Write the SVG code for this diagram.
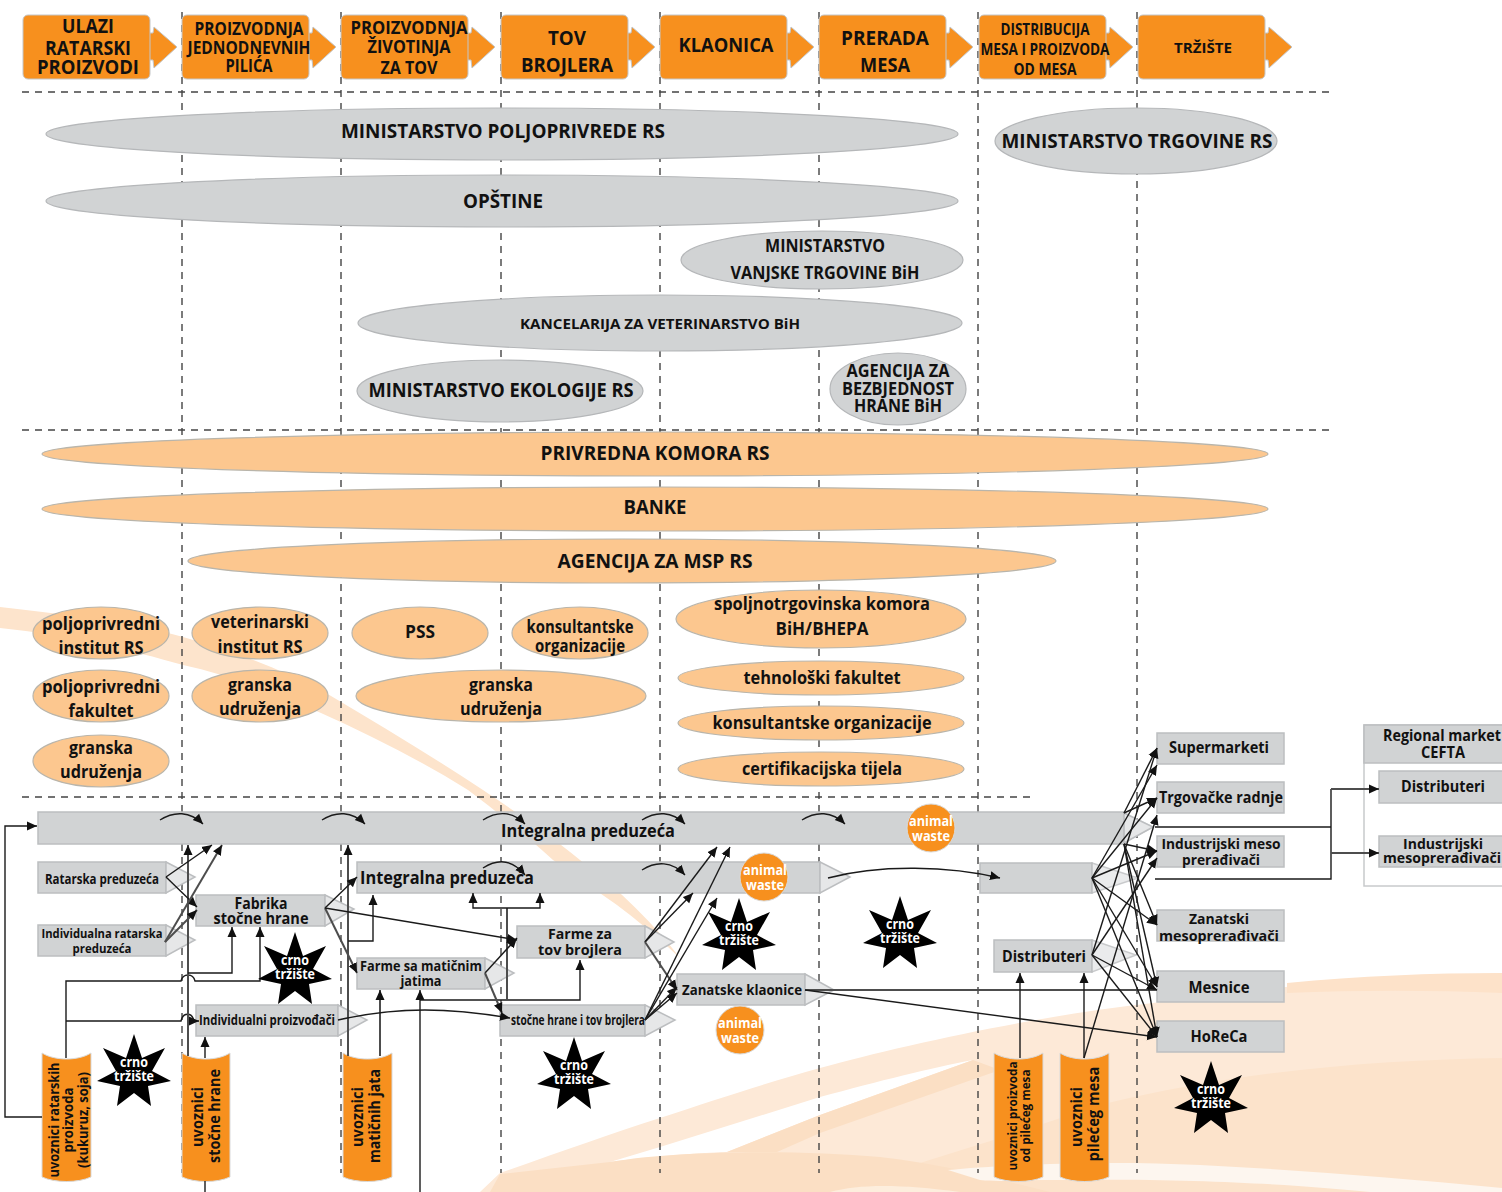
<svg xmlns="http://www.w3.org/2000/svg" width="1502" height="1192" viewBox="0 0 1502 1192">
<style>
text{font-family:"Open Sans","Noto Sans","Liberation Sans",sans-serif;font-weight:700;fill:#111;text-anchor:middle}
.w{fill:#fff}
.e{fill:#d1d3d4;stroke:#b5b7b9;stroke-width:1.2}
.p{fill:#fcc78f;stroke:#b9b5ab;stroke-width:1.2}
.b{fill:#d1d3d4;stroke:#bcbec0;stroke-width:1.5}
.tr{fill:#e6e7e8;stroke:#bcbec0;stroke-width:1.5}
.h{fill:#f7901e;stroke:#c4c6c8;stroke-width:1}
.c{fill:#f7901e;stroke:#d9dadb;stroke-width:1}
.d{fill:none;stroke:#444;stroke-width:1.4;stroke-dasharray:7 6}
.l{fill:none;stroke:#1a1a1a;stroke-width:1.4}
.g{fill:none;stroke:#4d4d4d;stroke-width:2}
.a{marker-end:url(#ah)}
</style>
<defs>
<marker id="ah" markerWidth="11" markerHeight="10" refX="10" refY="5" orient="auto" markerUnits="userSpaceOnUse"><path d="M0,0.5L10,5L0,9.5Z" fill="#111"/></marker>
<path id="star" d="M0,0L8,24L31,14L18,37L37,47L14,52L17,72L0,59L-17,72L-14,52L-37,47L-18,37L-31,14L-8,24Z" fill="#000"/>
<polygon id="harrow" points="125,18 130,18 131,12 154,32 131,53 130,45 125,45" fill="#f7901e" stroke="#c4c6c8"/>
</defs>
<g id="background">
<path d="M0,607C70,615 130,622 183,637C230,650 280,668 326,693C380,725 430,755 483,790C520,815 550,835 580,860C620,890 655,925 680,958C650,930 630,915 617,905C595,890 575,875 553,860C525,835 495,810 468,790C420,760 370,735 321,713C280,695 230,675 183,665C130,650 70,635 0,628Z" fill="#fde4cc"/>
<path d="M480,1192L500,1173C560,1152 610,1134 660,1118C720,1098 770,1082 820,1068C900,1046 1040,1015 1153,1003C1290,984 1400,976 1502,973V1192Z" fill="#fde9d7"/>
<path d="M610,1162L660,1147L820,1097C880,1081 930,1068 973,1060L820,1115L727,1152C680,1154 640,1158 610,1162Z" fill="#fff"/>
<path d="M973,1060L820,1115L727,1152H777L820,1133L1000,1070Z" fill="#fbdfc4"/>
<path d="M1000,1138L920,1163L1000,1192H1502V1058C1380,1060 1240,1070 1100,1105Z" fill="#fce3cb"/>
<path d="M1287,983C1360,976 1430,973 1502,973V993C1430,990 1360,990 1287,993Z" fill="#fde2c9"/>
<path d="M490,1192L500,1174L610,1162C680,1150 800,1150 880,1157C950,1165 1000,1180 1050,1192Z" fill="#fbdfc4"/>
<path d="M948,1170C1000,1165 1100,1160 1200,1165C1300,1170 1400,1178 1502,1188V1192H1370C1300,1185 1200,1178 1050,1180C1020,1180 1000,1182 980,1180Z" fill="#fdf6ef"/>
<path d="M830,1192C860,1184 900,1184 960,1192Z" fill="#fdeedd"/>
</g>
<g id="guides">
<path class="d" d="M22,92H1330M22,430H1330M22,797H1030"/>
<path class="d" d="M182,12V1173M341,12V1173M501,12V1173M660,12V1173M819,12V1173M978,12V1173M1137,12V1173"/>
</g>
<g id="stage-ulazi"><g transform="translate(23,15)"><use href="#harrow"/><rect class="h" width="127" height="64" rx="5"/></g><text x="88" y="33" font-size="19" textLength="52" lengthAdjust="spacingAndGlyphs">ULAZI</text><text x="88" y="55" font-size="19" textLength="86" lengthAdjust="spacingAndGlyphs">RATARSKI</text><text x="88" y="74" font-size="19" textLength="102" lengthAdjust="spacingAndGlyphs">PROIZVODI</text></g>
<g id="stage-pilici"><g transform="translate(182,15)"><use href="#harrow"/><rect class="h" width="127" height="64" rx="5"/></g><text x="249" y="35" font-size="17" textLength="109" lengthAdjust="spacingAndGlyphs">PROIZVODNJA</text><text x="249" y="54" font-size="17" textLength="123" lengthAdjust="spacingAndGlyphs">JEDNODNEVNIH</text><text x="249" y="72" font-size="17" textLength="47" lengthAdjust="spacingAndGlyphs">PILIĆA</text></g>
<g id="stage-zivotinje"><g transform="translate(341,15)"><use href="#harrow"/><rect class="h" width="127" height="64" rx="5"/></g><text x="409" y="34" font-size="18" textLength="117" lengthAdjust="spacingAndGlyphs">PROIZVODNJA</text><text x="409" y="53" font-size="18" textLength="83" lengthAdjust="spacingAndGlyphs">ŽIVOTINJA</text><text x="409" y="74" font-size="18" textLength="57" lengthAdjust="spacingAndGlyphs">ZA TOV</text></g>
<g id="stage-tov"><g transform="translate(501,15)"><use href="#harrow"/><rect class="h" width="127" height="64" rx="5"/></g><text x="567" y="45" font-size="20" textLength="38" lengthAdjust="spacingAndGlyphs">TOV</text><text x="567" y="72" font-size="20" textLength="92" lengthAdjust="spacingAndGlyphs">BROJLERA</text></g>
<g id="stage-klaonica"><g transform="translate(660,15)"><use href="#harrow"/><rect class="h" width="127" height="64" rx="5"/></g><text x="726" y="52" font-size="20" textLength="95" lengthAdjust="spacingAndGlyphs">KLAONICA</text></g>
<g id="stage-prerada"><g transform="translate(819,15)"><use href="#harrow"/><rect class="h" width="127" height="64" rx="5"/></g><text x="885" y="45" font-size="20" textLength="88" lengthAdjust="spacingAndGlyphs">PRERADA</text><text x="885" y="72" font-size="20" textLength="50" lengthAdjust="spacingAndGlyphs">MESA</text></g>
<g id="stage-distribucija"><g transform="translate(979,15)"><use href="#harrow"/><rect class="h" width="127" height="64" rx="5"/></g><text x="1045" y="35" font-size="16" textLength="89" lengthAdjust="spacingAndGlyphs">DISTRIBUCIJA</text><text x="1045" y="55" font-size="16" textLength="129" lengthAdjust="spacingAndGlyphs">MESA I PROIZVODA</text><text x="1045" y="75" font-size="16" textLength="63" lengthAdjust="spacingAndGlyphs">OD MESA</text></g>
<g id="stage-trziste"><g transform="translate(1138,15)"><use href="#harrow"/><rect class="h" width="127" height="64" rx="5"/></g><text x="1203" y="53" font-size="15" textLength="58" lengthAdjust="spacingAndGlyphs">TRŽIŠTE</text></g>

<g id="inst-poljoprivreda"><ellipse class="e" cx="502" cy="134" rx="456" ry="26"/><text x="503" y="138" font-size="19" textLength="324" lengthAdjust="spacingAndGlyphs">MINISTARSTVO POLJOPRIVREDE RS</text></g>
<g id="inst-opstine"><ellipse class="e" cx="502" cy="201" rx="456" ry="26"/><text x="503" y="208" font-size="19" textLength="80" lengthAdjust="spacingAndGlyphs">OPŠTINE</text></g>
<g id="inst-trgovina"><ellipse class="e" cx="1136" cy="141" rx="141" ry="33"/><text x="1137" y="148" font-size="20" textLength="271" lengthAdjust="spacingAndGlyphs">MINISTARSTVO TRGOVINE RS</text></g>
<g id="inst-vanjska"><ellipse class="e" cx="822" cy="260" rx="141" ry="29"/><text x="825" y="252" font-size="18" textLength="120" lengthAdjust="spacingAndGlyphs">MINISTARSTVO</text><text x="825" y="279" font-size="18" textLength="189" lengthAdjust="spacingAndGlyphs">VANJSKE TRGOVINE BiH</text></g>
<g id="inst-veterina"><ellipse class="e" cx="660" cy="323" rx="302" ry="28"/><text x="660" y="329" font-size="15" textLength="280" lengthAdjust="spacingAndGlyphs">KANCELARIJA ZA VETERINARSTVO BiH</text></g>
<g id="inst-ekologija"><ellipse class="e" cx="500" cy="391" rx="143" ry="31"/><text x="501" y="397" font-size="20" textLength="265" lengthAdjust="spacingAndGlyphs">MINISTARSTVO EKOLOGIJE RS</text></g>
<g id="inst-agencija"><ellipse class="e" cx="898" cy="389" rx="68" ry="36"/><text x="898" y="377" font-size="17" textLength="103" lengthAdjust="spacingAndGlyphs">AGENCIJA ZA</text><text x="898" y="395" font-size="17" textLength="112" lengthAdjust="spacingAndGlyphs">BEZBJEDNOST</text><text x="898" y="412" font-size="17" textLength="88" lengthAdjust="spacingAndGlyphs">HRANE BiH</text></g>

<g id="sup-komora"><ellipse class="p" cx="655" cy="454" rx="613" ry="22"/><text x="655" y="460" font-size="19" textLength="229" lengthAdjust="spacingAndGlyphs">PRIVREDNA KOMORA RS</text></g>
<g id="sup-banke"><ellipse class="p" cx="655" cy="509" rx="613" ry="22"/><text x="655" y="514" font-size="19" textLength="63" lengthAdjust="spacingAndGlyphs">BANKE</text></g>
<g id="sup-msp"><ellipse class="p" cx="622" cy="561" rx="434" ry="22"/><text x="655" y="568" font-size="19" textLength="195" lengthAdjust="spacingAndGlyphs">AGENCIJA ZA MSP RS</text></g>
<g id="sup-institut"><ellipse class="p" cx="101" cy="633" rx="68" ry="26"/><text x="101" y="630" font-size="18" textLength="118" lengthAdjust="spacingAndGlyphs">poljoprivredni</text><text x="101" y="654" font-size="18" textLength="85" lengthAdjust="spacingAndGlyphs">institut RS</text></g>
<g id="sup-fakultet"><ellipse class="p" cx="101" cy="696" rx="68" ry="26"/><text x="101" y="693" font-size="18" textLength="118" lengthAdjust="spacingAndGlyphs">poljoprivredni</text><text x="101" y="717" font-size="18" textLength="65" lengthAdjust="spacingAndGlyphs">fakultet</text></g>
<g id="sup-granska1"><ellipse class="p" cx="101" cy="761" rx="68" ry="26"/><text x="101" y="754" font-size="18" textLength="64" lengthAdjust="spacingAndGlyphs">granska</text><text x="101" y="778" font-size="18" textLength="82" lengthAdjust="spacingAndGlyphs">udruženja</text></g>
<g id="sup-veterinarski"><ellipse class="p" cx="260" cy="633" rx="68" ry="26"/><text x="260" y="628" font-size="18" textLength="98" lengthAdjust="spacingAndGlyphs">veterinarski</text><text x="260" y="653" font-size="18" textLength="85" lengthAdjust="spacingAndGlyphs">institut RS</text></g>
<g id="sup-granska2"><ellipse class="p" cx="260" cy="696" rx="68" ry="26"/><text x="260" y="691" font-size="18" textLength="64" lengthAdjust="spacingAndGlyphs">granska</text><text x="260" y="715" font-size="18" textLength="82" lengthAdjust="spacingAndGlyphs">udruženja</text></g>
<g id="sup-pss"><ellipse class="p" cx="420" cy="633" rx="68" ry="26"/><text x="420" y="638" font-size="18" textLength="30" lengthAdjust="spacingAndGlyphs">PSS</text></g>
<g id="sup-konsultanti1"><ellipse class="p" cx="580" cy="633" rx="68" ry="26"/><text x="580" y="633" font-size="17" textLength="107" lengthAdjust="spacingAndGlyphs">konsultantske</text><text x="580" y="652" font-size="17" textLength="90" lengthAdjust="spacingAndGlyphs">organizacije</text></g>
<g id="sup-granska3"><ellipse class="p" cx="501" cy="696" rx="145" ry="26"/><text x="501" y="691" font-size="18" textLength="64" lengthAdjust="spacingAndGlyphs">granska</text><text x="501" y="715" font-size="18" textLength="82" lengthAdjust="spacingAndGlyphs">udruženja</text></g>
<g id="sup-bhepa"><ellipse class="p" cx="821" cy="619" rx="145" ry="29"/><text x="822" y="610" font-size="18" textLength="216" lengthAdjust="spacingAndGlyphs">spoljnotrgovinska komora</text><text x="822" y="635" font-size="18" textLength="93" lengthAdjust="spacingAndGlyphs">BiH/BHEPA</text></g>
<g id="sup-tehnoloski"><ellipse class="p" cx="821" cy="678" rx="143" ry="17"/><text x="822" y="684" font-size="18" textLength="157" lengthAdjust="spacingAndGlyphs">tehnološki fakultet</text></g>
<g id="sup-konsultanti2"><ellipse class="p" cx="821" cy="723" rx="143" ry="17"/><text x="822" y="729" font-size="18" textLength="219" lengthAdjust="spacingAndGlyphs">konsultantske organizacije</text></g>
<g id="sup-certifikacija"><ellipse class="p" cx="821" cy="769" rx="143" ry="17"/><text x="822" y="775" font-size="18" textLength="160" lengthAdjust="spacingAndGlyphs">certifikacijska tijela</text></g>

<g id="node-integralna-top"><polygon class="tr" points="1124,813 1153,827 1124,843"/><rect class="b" x="38" y="812" width="1086" height="32"/><polygon class="tr" points="1124,813 1153,827 1124,843" opacity=".55"/><text x="588" y="837" font-size="18" textLength="174" lengthAdjust="spacingAndGlyphs">Integralna preduzeća</text></g>
<g id="node-ratarska"><rect class="b" x="38" y="862" width="128" height="31"/><polygon class="tr" points="166,862 195,877 166,893"/><text x="102" y="884" font-size="14" textLength="114" lengthAdjust="spacingAndGlyphs">Ratarska preduzeća</text></g>
<g id="node-individualna"><rect class="b" x="38" y="925" width="128" height="31"/><polygon class="tr" points="166,925 195,940 166,956"/><text x="102" y="938" font-size="13" textLength="121" lengthAdjust="spacingAndGlyphs">Individualna ratarska</text><text x="102" y="953" font-size="13" textLength="59" lengthAdjust="spacingAndGlyphs">preduzeća</text></g>
<g id="node-fabrika"><rect class="b" x="196" y="895" width="129" height="31"/><polygon class="tr" points="325,895 354,909 325,926"/><text x="261" y="909" font-size="16" textLength="53" lengthAdjust="spacingAndGlyphs">Fabrika</text><text x="261" y="924" font-size="16" textLength="95" lengthAdjust="spacingAndGlyphs">stočne hrane</text></g>
<g id="node-integralna"><rect class="b" x="357" y="862" width="463" height="31"/><polygon class="tr" points="820,862 850,877 820,893"/><text x="447" y="884" font-size="18" textLength="174" lengthAdjust="spacingAndGlyphs">Integralna preduzeća</text></g>
<g id="node-proizvodjaci"><rect class="b" x="196" y="1005" width="142" height="31"/><polygon class="tr" points="338,1005 367,1020 338,1036"/><text x="267" y="1025" font-size="14" textLength="136" lengthAdjust="spacingAndGlyphs">Individualni proizvođači</text></g>
<g id="node-maticna"><rect class="b" x="357" y="958" width="128" height="31"/><polygon class="tr" points="485,958 514,973 485,989"/><text x="421" y="971" font-size="14" textLength="122" lengthAdjust="spacingAndGlyphs">Farme sa matičnim</text><text x="421" y="986" font-size="14" textLength="41" lengthAdjust="spacingAndGlyphs">jatima</text></g>
<g id="node-farme"><rect class="b" x="517" y="926" width="128" height="32"/><polygon class="tr" points="645,926 674,942 645,958"/><text x="580" y="939" font-size="15" textLength="64" lengthAdjust="spacingAndGlyphs">Farme za</text><text x="580" y="955" font-size="15" textLength="84" lengthAdjust="spacingAndGlyphs">tov brojlera</text></g>
<g id="node-stocne"><rect class="b" x="500" y="1005" width="145" height="31"/><polygon class="tr" points="645,1005 675,1020 645,1036"/><text x="578" y="1025" font-size="14" textLength="134" lengthAdjust="spacingAndGlyphs">stočne hrane i tov brojlera</text></g>
<g id="node-zanatske"><rect class="b" x="677" y="974" width="128" height="31"/><polygon class="tr" points="805,974 834,990 805,1005"/><text x="742" y="995" font-size="15" textLength="120" lengthAdjust="spacingAndGlyphs">Zanatske klaonice</text></g>
<g id="node-blank"><rect class="b" x="980" y="863" width="112" height="30"/><polygon class="tr" points="1092,863 1138,878 1092,893" opacity=".8"/></g>
<g id="node-distributeri"><rect class="b" x="994" y="940" width="98" height="32"/><polygon class="tr" points="1092,940 1136,955 1092,972" opacity=".8"/><text x="1044" y="962" font-size="16" textLength="84" lengthAdjust="spacingAndGlyphs">Distributeri</text></g>
<g id="node-supermarketi"><rect class="b" x="1157" y="733" width="127" height="31"/><text x="1219" y="753" font-size="16" textLength="100" lengthAdjust="spacingAndGlyphs">Supermarketi</text></g>
<g id="node-radnje"><rect class="b" x="1157" y="782" width="127" height="31"/><text x="1221" y="803" font-size="16" textLength="124" lengthAdjust="spacingAndGlyphs">Trgovačke radnje</text></g>
<g id="node-ind"><rect class="b" x="1157" y="836" width="127" height="31"/><text x="1221" y="849" font-size="15" textLength="119" lengthAdjust="spacingAndGlyphs">Industrijski meso</text><text x="1221" y="865" font-size="15" textLength="78" lengthAdjust="spacingAndGlyphs">prerađivači</text></g>
<g id="node-zan"><rect class="b" x="1157" y="910" width="127" height="31"/><text x="1219" y="924" font-size="15" textLength="60" lengthAdjust="spacingAndGlyphs">Zanatski</text><text x="1219" y="941" font-size="15" textLength="120" lengthAdjust="spacingAndGlyphs">mesoprerađivači</text></g>
<g id="node-mesnice"><rect class="b" x="1157" y="971" width="127" height="31"/><text x="1219" y="993" font-size="16" textLength="61" lengthAdjust="spacingAndGlyphs">Mesnice</text></g>
<g id="node-horeca"><rect class="b" x="1157" y="1021" width="127" height="31"/><text x="1219" y="1042" font-size="16" textLength="57" lengthAdjust="spacingAndGlyphs">HoReCa</text></g>
<g id="node-regional"><rect x="1364" y="725" width="150" height="161" fill="#fff" stroke="#c8cacc" stroke-width="1.5"/><rect class="b" x="1364" y="725" width="150" height="38"/><text x="1442" y="741" font-size="16" textLength="118" lengthAdjust="spacingAndGlyphs">Regional market</text><text x="1443" y="758" font-size="16" textLength="44" lengthAdjust="spacingAndGlyphs">CEFTA</text></g>
<g id="node-reg-dist"><rect class="b" x="1379" y="771" width="140" height="32"/><text x="1443" y="792" font-size="16" textLength="84" lengthAdjust="spacingAndGlyphs">Distributeri</text></g>
<g id="node-reg-ind"><rect class="b" x="1379" y="836" width="140" height="31"/><text x="1443" y="849" font-size="15" textLength="80" lengthAdjust="spacingAndGlyphs">Industrijski</text><text x="1442" y="863" font-size="15" textLength="118" lengthAdjust="spacingAndGlyphs">mesoprerađivači</text></g>

<g id="cyl-ratarski"><path class="c" d="M42,1053C55,1061 78,1061 91,1053V1177C78,1183 55,1183 42,1177Z"/><g transform="translate(59,1120) rotate(-90)"><text font-size="15" textLength="115" lengthAdjust="spacingAndGlyphs">uvoznici ratarskih</text></g><g transform="translate(73,1120) rotate(-90)"><text font-size="15" textLength="65" lengthAdjust="spacingAndGlyphs">proizvoda</text></g><g transform="translate(88,1120) rotate(-90)"><text font-size="15" textLength="96" lengthAdjust="spacingAndGlyphs">(kukuruz, soja)</text></g></g>
<g id="cyl-hrana"><path class="c" d="M182,1053C195,1061 217,1061 230,1053V1177C217,1183 195,1183 182,1177Z"/><g transform="translate(203,1117) rotate(-90)"><text font-size="16" textLength="60" lengthAdjust="spacingAndGlyphs">uvoznici</text></g><g transform="translate(220,1116) rotate(-90)"><text font-size="16" textLength="94" lengthAdjust="spacingAndGlyphs">stočne hrane</text></g></g>
<g id="cyl-jata"><path class="c" d="M343,1053C356,1061 379,1061 392,1053V1177C379,1183 356,1183 343,1177Z"/><g transform="translate(363,1117) rotate(-90)"><text font-size="16" textLength="60" lengthAdjust="spacingAndGlyphs">uvoznici</text></g><g transform="translate(380,1116) rotate(-90)"><text font-size="16" textLength="94" lengthAdjust="spacingAndGlyphs">matičnih jata</text></g></g>
<g id="cyl-proizvodi"><path class="c" d="M994,1053C1007,1061 1030,1061 1043,1053V1177C1030,1183 1007,1183 994,1177Z"/><g transform="translate(1017,1116) rotate(-90)"><text font-size="13" textLength="109" lengthAdjust="spacingAndGlyphs">uvoznici proizvoda</text></g><g transform="translate(1030,1116) rotate(-90)"><text font-size="13" textLength="93" lengthAdjust="spacingAndGlyphs">od pilećeg mesa</text></g></g>
<g id="cyl-meso"><path class="c" d="M1060,1053C1073,1061 1096,1061 1109,1053V1177C1096,1183 1073,1183 1060,1177Z"/><g transform="translate(1082,1117) rotate(-90)"><text font-size="16" textLength="60" lengthAdjust="spacingAndGlyphs">uvoznici</text></g><g transform="translate(1099,1114) rotate(-90)"><text font-size="16" textLength="95" lengthAdjust="spacingAndGlyphs">pilećeg mesa</text></g></g>

<g id="connectors">
<path class="l a" d="M42,1117H5V826H37"/>
<path class="l a" d="M66,1058V981H181C183,973 193,973 195,981H260V927"/>
<path class="l a" d="M66,1021H181C183,1012 192,1012 194,1021H199"/>
<path class="g a" d="M188,1056V845"/>
<path class="l a" d="M188,973H232V927"/>
<path class="l a" d="M205,1058V1037"/>
<path class="l" d="M205,1181V1192"/>
<path class="g a" d="M348,1056V845"/>
<path class="l a" d="M348,941H373V895"/>
<path class="g a" d="M380,1056V990"/>
<path class="l a" d="M420,1192V990"/>
<path class="l a" d="M420,1000H580V960"/>
<path class="g" d="M507,1000V908"/>
<path class="l a" d="M507,908H473V893"/>
<path class="l a" d="M507,908H540V893"/>
<path class="l a" d="M166,877L212,845"/>
<path class="l a" d="M166,877L197,907"/>
<path class="g a" d="M165,942L222,845"/>
<path class="g a" d="M165,942L197,910"/>
<path class="l a" d="M325,908L357,877"/>
<path class="g a" d="M325,908L357,973"/>
<path class="l a" d="M325,908L517,940"/>
<path class="l a" d="M485,973L517,938"/>
<path class="g a" d="M485,973L502,1013"/>
<path class="l a" d="M338,1020C400,1006 450,1008 510,1018"/>
<path class="l a" d="M645,942L717,847"/>
<path class="l a" d="M645,942L693,893"/>
<path class="g a" d="M645,942L677,990"/>
<path class="l a" d="M645,1020L730,847"/>
<path class="l a" d="M645,1020L717,898"/>
<path class="l a" d="M645,1020L677,993"/>
<path class="l a" d="M645,1020L677,987"/>
<path class="l a" d="M160,820C174,811 190,811 203,824"/>
<path class="l a" d="M322,820C336,811 352,811 365,824"/>
<path class="l a" d="M483,820C497,811 512,811 525,824"/>
<path class="l a" d="M642,820C656,811 672,811 685,824"/>
<path class="l a" d="M802,820C816,811 832,811 845,824"/>
<path class="l a" d="M483,868C497,859 512,859 525,875"/>
<path class="l a" d="M642,870C656,861 672,861 685,875"/>
<path class="l a" d="M828,878C880,864 950,866 1000,878"/>
<path class="g" d="M805,990H1157"/>
<path class="l a" d="M805,990L1157,1037"/>
<path class="l a" d="M1124,813L1157,748"/>
<path class="l a" d="M1124,813L1157,798"/>
<path class="l a" d="M1124,844L1157,851"/>
<path class="l a" d="M1124,844L1157,925"/>
<path class="l a" d="M1124,844L1157,987"/>
<path class="l a" d="M1124,844L1157,1037"/>
<path class="l a" d="M1092,878L1157,765"/>
<path class="l a" d="M1092,878L1157,798"/>
<path class="l a" d="M1092,878L1157,851"/>
<path class="l a" d="M1092,878L1157,925"/>
<path class="l a" d="M1092,878L1157,987"/>
<path class="l a" d="M1092,878L1157,1037"/>
<path class="l a" d="M1092,955L1157,748"/>
<path class="l a" d="M1092,955L1157,858"/>
<path class="l a" d="M1092,955L1157,990"/>
<path class="l a" d="M1092,955L1157,1037"/>
<path class="l a" d="M1084,1058L1157,815"/>
<path class="l a" d="M1020,1058V973"/>
<path class="l a" d="M1084,1058V973"/>
<path class="l" d="M1155,827H1331"/>
<path class="l" d="M1155,879H1331V789"/>
<path class="g a" d="M1331,789H1379"/>
<path class="g a" d="M1331,853H1379"/>
</g>

<g id="black-market-1"><use href="#star" x="295" y="932"/><text class="w" x="295" y="965" font-size="14" textLength="28" lengthAdjust="spacingAndGlyphs">crno</text><text class="w" x="295" y="979" font-size="14" textLength="40" lengthAdjust="spacingAndGlyphs">tržište</text></g>
<g id="black-market-2"><use href="#star" x="134" y="1034"/><text class="w" x="134" y="1067" font-size="14" textLength="28" lengthAdjust="spacingAndGlyphs">crno</text><text class="w" x="134" y="1081" font-size="14" textLength="40" lengthAdjust="spacingAndGlyphs">tržište</text></g>
<g id="black-market-3"><use href="#star" x="739" y="898"/><text class="w" x="739" y="931" font-size="14" textLength="28" lengthAdjust="spacingAndGlyphs">crno</text><text class="w" x="739" y="945" font-size="14" textLength="40" lengthAdjust="spacingAndGlyphs">tržište</text></g>
<g id="black-market-4"><use href="#star" x="900" y="896"/><text class="w" x="900" y="929" font-size="14" textLength="28" lengthAdjust="spacingAndGlyphs">crno</text><text class="w" x="900" y="943" font-size="14" textLength="40" lengthAdjust="spacingAndGlyphs">tržište</text></g>
<g id="black-market-5"><use href="#star" x="574" y="1037"/><text class="w" x="574" y="1070" font-size="14" textLength="28" lengthAdjust="spacingAndGlyphs">crno</text><text class="w" x="574" y="1084" font-size="14" textLength="40" lengthAdjust="spacingAndGlyphs">tržište</text></g>
<g id="black-market-6"><use href="#star" x="1211" y="1061"/><text class="w" x="1211" y="1094" font-size="14" textLength="28" lengthAdjust="spacingAndGlyphs">crno</text><text class="w" x="1211" y="1108" font-size="14" textLength="40" lengthAdjust="spacingAndGlyphs">tržište</text></g>
<g id="waste-1"><circle class="c" cx="931" cy="828" r="24"/><text class="w" x="931" y="826" font-size="14" textLength="44" lengthAdjust="spacingAndGlyphs">animal</text><text class="w" x="931" y="841" font-size="14" textLength="38" lengthAdjust="spacingAndGlyphs">waste</text></g>
<g id="waste-2"><circle class="c" cx="764" cy="877" r="24"/><text class="w" x="765" y="875" font-size="14" textLength="44" lengthAdjust="spacingAndGlyphs">animal</text><text class="w" x="765" y="890" font-size="14" textLength="38" lengthAdjust="spacingAndGlyphs">waste</text></g>
<g id="waste-3"><circle class="c" cx="740" cy="1030" r="24"/><text class="w" x="740" y="1028" font-size="14" textLength="44" lengthAdjust="spacingAndGlyphs">animal</text><text class="w" x="740" y="1043" font-size="14" textLength="38" lengthAdjust="spacingAndGlyphs">waste</text></g>
</svg>
